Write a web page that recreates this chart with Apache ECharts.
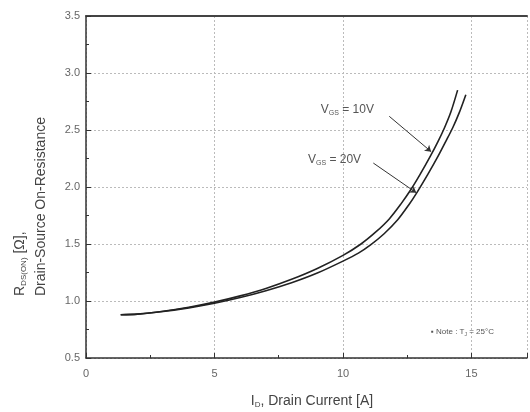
<!DOCTYPE html>
<html>
<head>
<meta charset="utf-8">
<script src="https://cdn.jsdelivr.net/npm/echarts@6/dist/echarts.min.js"></script>
<style>
  html, body { margin: 0; padding: 0; background: #fff; }
  #chart { width: 530px; height: 412px; }
</style>
</head>
<body>
<div id="chart"></div>
<script>
// drain current [A] and on-resistance [ohm]
const id10 = [1.35, 2, 3, 4, 5, 6, 7, 8, 9, 10, 10.7, 11.3, 11.8, 12.25, 12.65, 13.0, 13.4, 13.7, 13.95, 14.2, 14.46]
const r10 = [0.88, 0.885, 0.91, 0.945, 0.99, 1.045, 1.11, 1.19, 1.285, 1.4, 1.5, 1.61, 1.72, 1.85, 1.98, 2.11, 2.27, 2.4, 2.52, 2.66, 2.85]
const id20 = [1.35, 2, 3, 4, 5, 6, 7, 8, 9, 10, 10.6, 11.06, 11.6, 12.12, 12.55, 12.9, 13.3, 13.7, 14.0, 14.27, 14.52, 14.78]
const r20 = [0.88, 0.885, 0.908, 0.94, 0.98, 1.03, 1.09, 1.16, 1.245, 1.35, 1.42, 1.49, 1.59, 1.71, 1.84, 1.96, 2.11, 2.27, 2.4, 2.52, 2.65, 2.81]

const xTicks = [0, 5, 10, 15]
const yTicks = [0.5, 1.0, 1.5, 2.0, 2.5, 3.0, 3.5]

const pairs = (xs, ys) => xs.map((x, i) => [x, ys[i]])

const chart = echarts.init(document.getElementById('chart'))

const tickColor = '#666'
const subStyle = { fontSize: 7, color: '#555', padding: [7, 0, 0, 0] }

chart.setOption({
  animation: false,
  grid: { left: 86, right: 0, top: 16, bottom: 54 },
  xAxis: [{
    type: 'value',
    min: xTicks[0],
    max: 17.16,
    interval: 5,
    axisLine: { show: true, lineStyle: { color: '#333', width: 1.5 } },
    axisTick: { show: true, inside: true, length: 5, lineStyle: { color: '#333' } },
    minorTick: { show: true, splitNumber: 2, length: 3, lineStyle: { color: '#333' } },
    axisLabel: { color: tickColor, fontSize: 11, margin: 10,
      formatter: v => xTicks.includes(v) ? String(v) : '' },
    splitLine: { show: true, lineStyle: { color: '#bbb', type: [2, 2], width: 1 } }
  }, {
    type: 'value',
    position: 'top',
    min: 0,
    max: 17.16,
    axisLine: { show: true, lineStyle: { color: '#444', width: 2 } },
    axisTick: { show: false },
    axisLabel: { show: false },
    splitLine: { show: false }
  }],
  yAxis: {
    type: 'value',
    min: yTicks[0],
    max: yTicks[yTicks.length - 1],
    interval: 0.5,
    axisLine: { show: true, lineStyle: { color: '#333', width: 1.5 } },
    axisTick: { show: true, inside: true, length: 5, lineStyle: { color: '#333' } },
    minorTick: { show: true, splitNumber: 2, length: 3, lineStyle: { color: '#333' } },
    axisLabel: { color: tickColor, fontSize: 11, margin: 6, formatter: v => v.toFixed(1) },
    splitLine: { show: true, lineStyle: { color: '#bbb', type: [2, 2], width: 1 } }
  },
  series: [{
    name: 'VGS = 10V',
    type: 'line',
    data: pairs(id10, r10),
    smooth: 0.3,
    showSymbol: false,
    lineStyle: { color: '#222', width: 1.6 },
    markLine: {
      silent: true,
      symbol: ['none', 'arrow'],
      symbolSize: 6,
      label: { show: false },
      lineStyle: { color: '#333', width: 1, type: 'solid' },
      data: [[{ coord: [11.8, 2.62] }, { coord: [13.43, 2.31] }]]
    },
    markPoint: {
      silent: true,
      symbol: 'circle',
      symbolSize: 0,
      label: {
        show: true,
        position: 'inside',
        formatter: '{a|V}{s|GS}{a| = 10V}',
        rich: { a: { fontSize: 12, color: '#555' }, s: subStyle }
      },
      data: [{ coord: [10.17, 2.68] }]
    }
  }, {
    name: 'VGS = 20V',
    type: 'line',
    data: pairs(id20, r20),
    smooth: 0.3,
    showSymbol: false,
    lineStyle: { color: '#222', width: 1.6 },
    markLine: {
      silent: true,
      symbol: ['none', 'arrow'],
      symbolSize: 6,
      label: { show: false },
      lineStyle: { color: '#333', width: 1, type: 'solid' },
      data: [[{ coord: [11.18, 2.21] }, { coord: [12.85, 1.95] }]]
    },
    markPoint: {
      silent: true,
      symbol: 'circle',
      symbolSize: 0,
      label: {
        show: true,
        position: 'inside',
        formatter: '{a|V}{s|GS}{a| = 20V}',
        rich: { a: { fontSize: 12, color: '#555' }, s: subStyle }
      },
      data: [{ coord: [9.67, 2.24] }]
    }
  }, {
    name: 'note',
    type: 'scatter',
    data: [],
    markPoint: {
      silent: true,
      symbol: 'circle',
      symbolSize: 0,
      label: {
        show: true,
        position: 'inside',
        formatter: '{a|▪ Note : T}{s|J}{a| = 25°C}',
        rich: { a: { fontSize: 8, color: '#555' }, s: { fontSize: 5, color: '#555', padding: [5, 0, 0, 0] } }
      },
      data: [{ coord: [14.65, 0.73] }]
    }
  }],
  graphic: [{
    type: 'text',
    x: 20, y: 296, rotation: Math.PI / 2,
    style: {
      text: '{a|R}{s|DS(ON)}{a| [Ω],}',
      rich: { a: { fontSize: 14, fill: '#444' }, s: { fontSize: 8, fill: '#444', padding: [8, 0, 0, 0] } },
      align: 'left', verticalAlign: 'middle'
    }
  }, {
    type: 'text',
    x: 41, y: 296, rotation: Math.PI / 2,
    style: {
      text: 'Drain-Source On-Resistance',
      fontSize: 14, fill: '#444',
      align: 'left', verticalAlign: 'middle'
    }
  }, {
    type: 'text',
    x: 312, y: 401,
    style: {
      text: '{a|I}{s|D}{a|, Drain Current [A]}',
      rich: { a: { fontSize: 14, fill: '#444' }, s: { fontSize: 8, fill: '#444', padding: [8, 0, 0, 0] } },
      align: 'center', verticalAlign: 'middle'
    }
  }]
})
</script>
</body>
</html>
